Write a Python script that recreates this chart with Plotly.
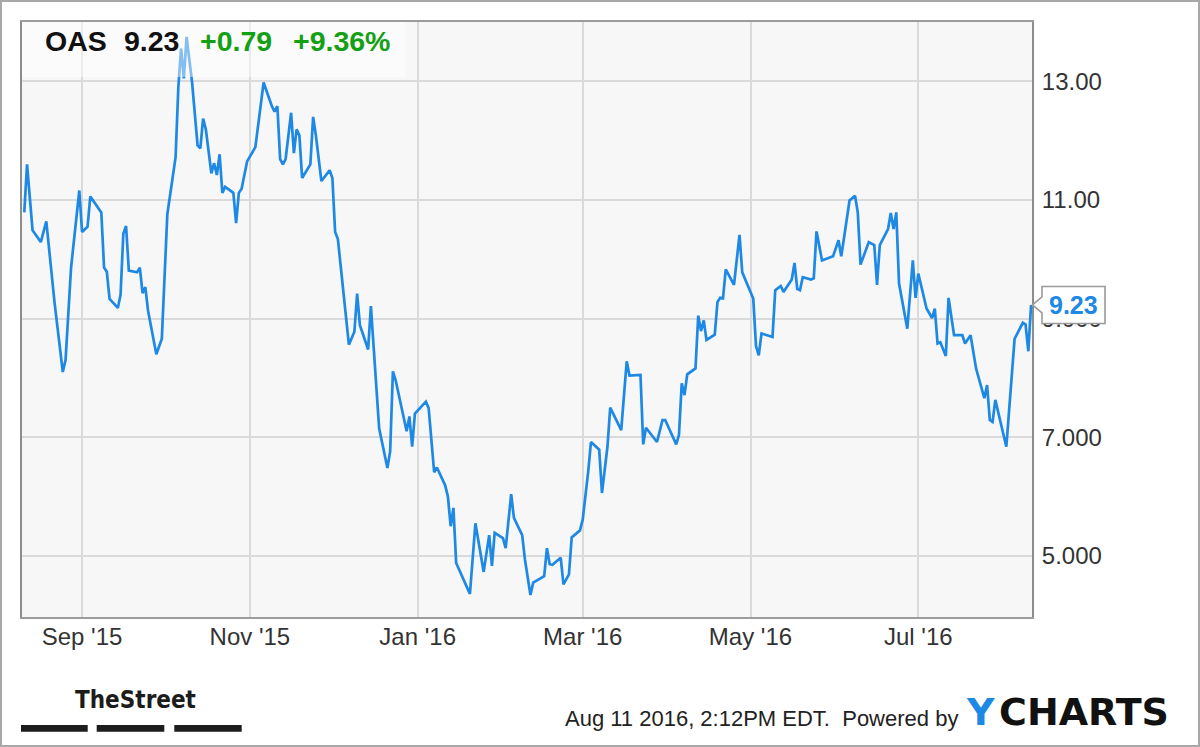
import plotly.graph_objects as go

# ---------------- data ----------------
dates = [
    "2015-08-11", "2015-08-12", "2015-08-14", "2015-08-17", "2015-08-19", "2015-08-22",
    "2015-08-25", "2015-08-26", "2015-08-28", "2015-08-31", "2015-09-01", "2015-09-03",
    "2015-09-04", "2015-09-08", "2015-09-09", "2015-09-10", "2015-09-11", "2015-09-14",
    "2015-09-15", "2015-09-16", "2015-09-17", "2015-09-18", "2015-09-21", "2015-09-22",
    "2015-09-23", "2015-09-24", "2015-09-25", "2015-09-28", "2015-09-30", "2015-10-02",
    "2015-10-05", "2015-10-06", "2015-10-07", "2015-10-08", "2015-10-09", "2015-10-11",
    "2015-10-13", "2015-10-14", "2015-10-15", "2015-10-16", "2015-10-18", "2015-10-19",
    "2015-10-20", "2015-10-21", "2015-10-22", "2015-10-23", "2015-10-26", "2015-10-27",
    "2015-10-28", "2015-10-29", "2015-10-31", "2015-11-02", "2015-11-03", "2015-11-06",
    "2015-11-09", "2015-11-10", "2015-11-11", "2015-11-12", "2015-11-13", "2015-11-14",
    "2015-11-16", "2015-11-17", "2015-11-18", "2015-11-19", "2015-11-20", "2015-11-23",
    "2015-11-24", "2015-11-25", "2015-11-27", "2015-11-30", "2015-12-01", "2015-12-02",
    "2015-12-03", "2015-12-07", "2015-12-09", "2015-12-10", "2015-12-11", "2015-12-14",
    "2015-12-15", "2015-12-18", "2015-12-21", "2015-12-22", "2015-12-23", "2015-12-24",
    "2015-12-28", "2015-12-29", "2015-12-30", "2015-12-31", "2016-01-04", "2016-01-05",
    "2016-01-07", "2016-01-08", "2016-01-11", "2016-01-12", "2016-01-13", "2016-01-14",
    "2016-01-15", "2016-01-20", "2016-01-22", "2016-01-25", "2016-01-27", "2016-01-28",
    "2016-01-29", "2016-02-01", "2016-02-02", "2016-02-04", "2016-02-05", "2016-02-08",
    "2016-02-09", "2016-02-11", "2016-02-12", "2016-02-16", "2016-02-17", "2016-02-18",
    "2016-02-19", "2016-02-22", "2016-02-23", "2016-02-25", "2016-02-26", "2016-02-29",
    "2016-03-01", "2016-03-03", "2016-03-04", "2016-03-07", "2016-03-08", "2016-03-10",
    "2016-03-11", "2016-03-15", "2016-03-17", "2016-03-18", "2016-03-22", "2016-03-23",
    "2016-03-24", "2016-03-28", "2016-03-30", "2016-03-31", "2016-04-02", "2016-04-04",
    "2016-04-05", "2016-04-06", "2016-04-07", "2016-04-08", "2016-04-11", "2016-04-12",
    "2016-04-13", "2016-04-14", "2016-04-15", "2016-04-18", "2016-04-19", "2016-04-20",
    "2016-04-21", "2016-04-22", "2016-04-25", "2016-04-27", "2016-04-28", "2016-05-02",
    "2016-05-03", "2016-05-04", "2016-05-05", "2016-05-09", "2016-05-10", "2016-05-12",
    "2016-05-13", "2016-05-16", "2016-05-17", "2016-05-18", "2016-05-19", "2016-05-20",
    "2016-05-23", "2016-05-24", "2016-05-25", "2016-05-27", "2016-05-31", "2016-06-02",
    "2016-06-03", "2016-06-06", "2016-06-08", "2016-06-09", "2016-06-10", "2016-06-13",
    "2016-06-15", "2016-06-16", "2016-06-17", "2016-06-20", "2016-06-21", "2016-06-22",
    "2016-06-23", "2016-06-24", "2016-06-27", "2016-06-29", "2016-06-30", "2016-07-01",
    "2016-07-04", "2016-07-06", "2016-07-07", "2016-07-08", "2016-07-09", "2016-07-11",
    "2016-07-12", "2016-07-14", "2016-07-17", "2016-07-18", "2016-07-20", "2016-07-22",
    "2016-07-25", "2016-07-26", "2016-07-27", "2016-07-28", "2016-07-29", "2016-08-02",
    "2016-08-05", "2016-08-08", "2016-08-09", "2016-08-10", "2016-08-11",
]

prices = [
    10.79, 11.60, 10.49, 10.29, 10.64, 9.27,
    8.10, 8.30, 9.86, 11.16, 10.46, 10.55,
    11.06, 10.79, 9.86, 9.79, 9.33, 9.18,
    9.40, 10.43, 10.56, 9.81, 9.78, 9.86,
    9.43, 9.53, 9.13, 8.40, 8.66, 10.76,
    11.72, 12.90, 13.55, 13.05, 13.75, 12.98,
    11.92, 11.87, 12.37, 12.19, 11.45, 11.62,
    11.42, 11.77, 11.12, 11.22, 11.12, 10.61,
    11.12, 11.19, 11.65, 11.82, 11.89, 12.98,
    12.58, 12.49, 12.58, 11.69, 11.60, 11.69,
    12.47, 11.79, 12.19, 12.09, 11.37, 11.60,
    12.40, 12.09, 11.32, 11.50, 11.37, 10.46,
    10.34, 8.56, 8.78, 9.42, 8.89, 8.48,
    9.21, 7.15, 6.48, 6.76, 8.11, 7.96,
    7.10, 7.35, 6.84, 7.40, 7.60, 7.49,
    6.41, 6.49, 6.19, 6.00, 5.50, 5.81,
    4.88, 4.36, 5.55, 4.73, 5.35, 4.83,
    5.39, 5.30, 5.13, 6.04, 5.64, 5.35,
    4.94, 4.34, 4.55, 4.66, 5.13, 4.86,
    4.85, 4.97, 4.52, 4.69, 5.31, 5.43,
    5.61, 6.42, 6.92, 6.79, 6.06, 6.84,
    7.50, 7.12, 8.28, 8.04, 8.05, 6.88,
    7.16, 6.92, 7.29, 7.29, 7.07, 6.88,
    7.04, 7.91, 7.71, 8.06, 8.16, 9.05,
    8.79, 8.97, 8.64, 8.73, 9.28, 9.35,
    9.34, 9.83, 9.57, 10.41, 9.78, 9.34,
    8.54, 8.38, 8.75, 8.69, 9.48, 9.55,
    9.45, 9.66, 9.94, 9.50, 9.48, 9.70,
    9.66, 9.68, 10.47, 9.98, 10.05, 10.32,
    10.05, 10.99, 11.07, 10.79, 9.91, 10.29,
    10.24, 9.57, 10.24, 10.51, 10.78, 10.51,
    10.79, 9.59, 8.83, 9.98, 9.35, 9.76,
    9.17, 9.01, 9.17, 8.58, 8.60, 8.37,
    9.35, 8.72, 8.72, 8.58, 8.72, 8.16,
    7.66, 7.88, 7.29, 7.26, 7.63, 6.84,
    8.66, 8.93, 8.90, 8.45, 9.23,
]

ticker = "OAS"
change_abs = "+0.79"
change_pct = "+9.36%"

x_tick_vals = ["2015-09-01", "2015-11-01", "2016-01-01", "2016-03-01", "2016-05-01", "2016-07-01"]
x_tick_text = ["Sep '15", "Nov '15", "Jan '16", "Mar '16", "May '16", "Jul '16"]
y_tick_vals = [5, 7, 9, 11, 13]
y_tick_text = ["5.000", "7.000", "9.000", "11.00", "13.00"]

footer_text = "Aug 11 2016, 2:12PM EDT.  Powered by"

# ---------------- styling ----------------
W, H = 1200, 747
ML, MR, MT, MB = 22, 168, 22, 130
PW, PH = W - ML - MR, H - MT - MB
FONT = "Liberation Sans, Arial, Helvetica, sans-serif"
LINE_BLUE = "#1e88e5"
GREEN = "#14a014"
TEXT = "#333333"


def px(x):
    return (x - ML) / PW


def py(y):
    return (H - MB - y) / PH


fig = go.Figure()
fig.add_trace(go.Scatter(
    x=dates, y=prices, mode="lines",
    line=dict(color=LINE_BLUE, width=2.7),
    hoverinfo="skip", showlegend=False,
))

shapes = []
# outer frame
shapes.append(dict(type="rect", xref="paper", yref="paper",
                   x0=px(1), x1=px(1199), y0=py(746), y1=py(1),
                   line=dict(color="#a8a8a8", width=2), fillcolor="rgba(0,0,0,0)", layer="below"))
# translucent band behind the title
shapes.append(dict(type="rect", xref="paper", yref="paper",
                   x0=0, x1=px(405), y0=py(77), y1=1,
                   line=dict(width=0), fillcolor="rgba(255,255,255,0.45)", layer="above"))
# last value callout box with pointer
shapes.append(dict(type="path", xref="paper", yref="y",
                   xsizemode="pixel", ysizemode="pixel",
                   xanchor=1, yanchor=prices[-1],
                   path="M 0.5,0 L 10,8 L 10,18.5 L 73,18.5 L 73,-18.5 L 10,-18.5 L 10,-8 Z",
                   fillcolor="white", line=dict(color="#9a9a9a", width=1.6), layer="above"))
# TheStreet bars
for x0, x1 in [(21, 87.7), (96.7, 164.3), (174.3, 241.7)]:
    shapes.append(dict(type="rect", xref="paper", yref="paper",
                       x0=px(x0), x1=px(x1), y0=py(731.7), y1=py(725),
                       line=dict(width=0), fillcolor="#1c1c1c"))

annotations = []


def add_text(text, x, y, size, color, weight="normal", family=FONT, xanchor="left"):
    annotations.append(dict(text=text, xref="paper", yref="paper", x=px(x), y=py(y),
                            xanchor=xanchor, yanchor="middle", showarrow=False,
                            font=dict(size=size, color=color, family=family, weight=weight)))


add_text(ticker, 43, 41, 28.5, "#111111", "bold")
add_text(f"{prices[-1]:.2f}", 122, 41, 28.5, "#111111", "bold")
add_text(change_abs, 198, 41, 28.5, GREEN, "bold")
add_text(change_pct, 291, 41, 28.5, GREEN, "bold")

add_text("TheStreet", 73, 700, 24, "#1c1c1c", "bold",
         family="Liberation Sans Narrow, DejaVu Sans Condensed, Arial Narrow, Liberation Sans, sans-serif")
add_text(footer_text, 960, 718, 22, "#222222", xanchor="right")
add_text("Y", 964, 712, 38, LINE_BLUE, "bold", family="DejaVu Sans, Verdana, sans-serif")
add_text("CHARTS", 997, 712, 38, "#111111", "bold", family="DejaVu Sans, Verdana, sans-serif")

annotations.append(dict(text=f"{prices[-1]:.2f}", xref="paper", yref="y",
                        x=px(1073.5), y=prices[-1], xanchor="center", yanchor="middle",
                        showarrow=False,
                        font=dict(size=25, color=LINE_BLUE, family=FONT, weight="bold")))

fig.update_layout(
    width=W, height=H,
    margin=dict(l=ML, r=MR, t=MT, b=MB, pad=0),
    paper_bgcolor="white",
    plot_bgcolor="#f7f7f7",
    showlegend=False,
    shapes=shapes,
    annotations=annotations,
    font=dict(family=FONT, color=TEXT),
    xaxis=dict(
        type="date",
        range=["2015-08-10 04:00", "2016-08-11 08:00"],
        tickvals=x_tick_vals, ticktext=x_tick_text,
        tickfont=dict(size=24, color=TEXT, family=FONT),
        showgrid=True, gridcolor="#dadada", gridwidth=1.6,
        showline=True, linecolor="#9c9c9c", linewidth=2, mirror=True,
        ticks="", zeroline=False, ticklabelstandoff=-3,
        fixedrange=True,
    ),
    yaxis=dict(
        side="right",
        range=[3.97, 14.0],
        tickvals=y_tick_vals, ticktext=y_tick_text,
        tickfont=dict(size=24, color=TEXT, family=FONT),
        showgrid=True, gridcolor="#dadada", gridwidth=1.6,
        showline=True, linecolor="#8c8c8c", linewidth=2, mirror=True,
        ticks="", zeroline=False, ticklabelstandoff=3,
        fixedrange=True,
    ),
)

fig.write_html("out.html", config={"displayModeBar": False},
               post_script="document.body.style.margin='0px';document.body.style.overflow='hidden';")
